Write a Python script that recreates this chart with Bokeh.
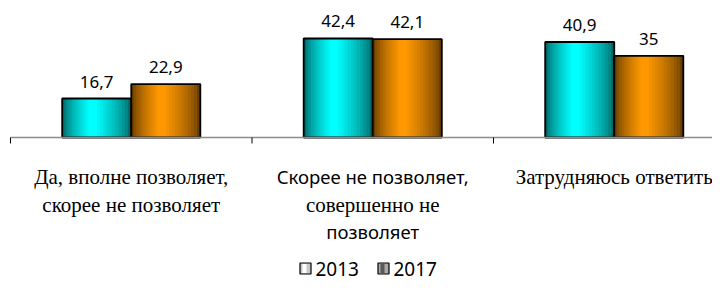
from bokeh.plotting import figure
from bokeh.models import Range1d
from bokeh.core.properties import value
from bokeh.embed import file_html
from bokeh.resources import INLINE
import numpy as np

# category labels, line by line (the source mixes a serif and a sans font)
category_lines = [
    ["Да, вполне позволяет,", "скорее не позволяет"],
    ["Скорее не позволяет,", "совершенно не", "позволяет"],
    ["Затрудняюсь ответить"],
]
category_line_serif = [
    [True, True],
    [False, True, False],
    [True],
]
years = ["2013", "2017"]
v2013 = [16.7, 42.4, 40.9]
v2017 = [22.9, 42.1, 35.0]
labels2013 = ["16,7", "42,4", "40,9"]
labels2017 = ["22,9", "42,1", "35"]

SERIF = "Liberation Serif"
SANS = "Noto Sans"

W, H = 712, 280
PX_PER_CAT = 241.5
PX_PER_UNIT = 2.335
BASE_PX = 137   # baseline from top of figure
LEFT_PX = 10    # left edge of category area

x0 = -0.5 - LEFT_PX / PX_PER_CAT
x1 = x0 + W / PX_PER_CAT
y1 = BASE_PX / PX_PER_UNIT
y0 = y1 - H / PX_PER_UNIT

p = figure(width=W, height=H, output_backend="svg", toolbar_location=None,
           x_range=Range1d(x0, x1), y_range=Range1d(y0, y1),
           min_border=0, outline_line_color=None)
p.axis.visible = False
p.grid.visible = False
p.background_fill_color = "white"
p.border_fill_color = "white"

def dx(px):
    return px / PX_PER_CAT
def ypos(px_from_top):
    return (BASE_PX - px_from_top) / PX_PER_UNIT
def dy(px):
    return px / PX_PER_UNIT

xs = np.arange(len(v2013), dtype=float)
bw = 0.286
off = bw / 2

def grad_bar(xc, tops, dark, light):
    dark = np.array(dark, float); light = np.array(light, float)
    n = 12
    for i in range(n):
        t = i / (n - 1)
        c = dark + (light - dark) * (t ** 0.7)
        col = "#%02x%02x%02x" % tuple(int(round(v)) for v in c)
        w = bw * (1 - 0.88 * t)
        p.vbar(x=list(xc - bw * 0.06 * t), top=tops, bottom=0, width=w,
               fill_color=col, line_color=None)
    p.vbar(x=list(xc), top=tops, bottom=0, width=bw, fill_color=None,
           line_color="black", line_width=1.8)

grad_bar(xs - off, v2013, (0, 105, 105), (0, 255, 255))
grad_bar(xs + off, v2017, (105, 62, 0), (255, 152, 0))

# value labels
for xc, vals, labs in ((xs - off, v2013, labels2013), (xs + off, v2017, labels2017)):
    p.text(x=list(xc), y=[v + dy(17) for v in vals], text=labs,
           text_align="center", text_baseline="alphabetic", text_font_size="17px",
           text_font=value(SANS), text_color="black")

# baseline and ticks
p.segment(x0=[-0.5], y0=[0], x1=[x1], y1=[0],
          line_color="#8c8c8c", line_width=1.5)
ticks = [-0.5, 0.5, 1.5]
p.segment(x0=ticks, y0=[0] * 3, x1=ticks, y1=[-dy(6)] * 3,
          line_color="black", line_width=1)

# category labels
line_baselines = [176, 204, 231]
for i, (lines, serifs) in enumerate(zip(category_lines, category_line_serif)):
    for j, (txt, serif) in enumerate(zip(lines, serifs)):
        p.text(x=[xs[i]], y=[ypos(line_baselines[j])], text=[txt],
               text_align="center", text_baseline="alphabetic",
               text_font_size="21px" if serif else "18.5px",
               text_font=value(SERIF if serif else SANS),
               text_color="black")

# legend
leg_yc = ypos(268)
leg_x = [x0 + dx(305), x0 + dx(383)]
leg_fill = [("#ffffff", "#c8c8c8"), ("#5a5a5a", "#a8a8a8")]
for lx, yr, (a, b) in zip(leg_x, years, leg_fill):
    p.rect(x=[lx], y=[leg_yc], width=dx(11), height=dy(11),
           fill_color=b, line_color="black", line_width=1.2)
    p.rect(x=[lx - dx(1)], y=[leg_yc], width=dx(4), height=dy(9),
           fill_color=a, line_color=None)
    p.text(x=[lx + dx(10)], y=[leg_yc], text=[yr], text_align="left",
           text_baseline="middle", text_font_size="19px",
           text_font=value(SANS), text_color="black")

open("out.html", "w").write(file_html(p, INLINE))
